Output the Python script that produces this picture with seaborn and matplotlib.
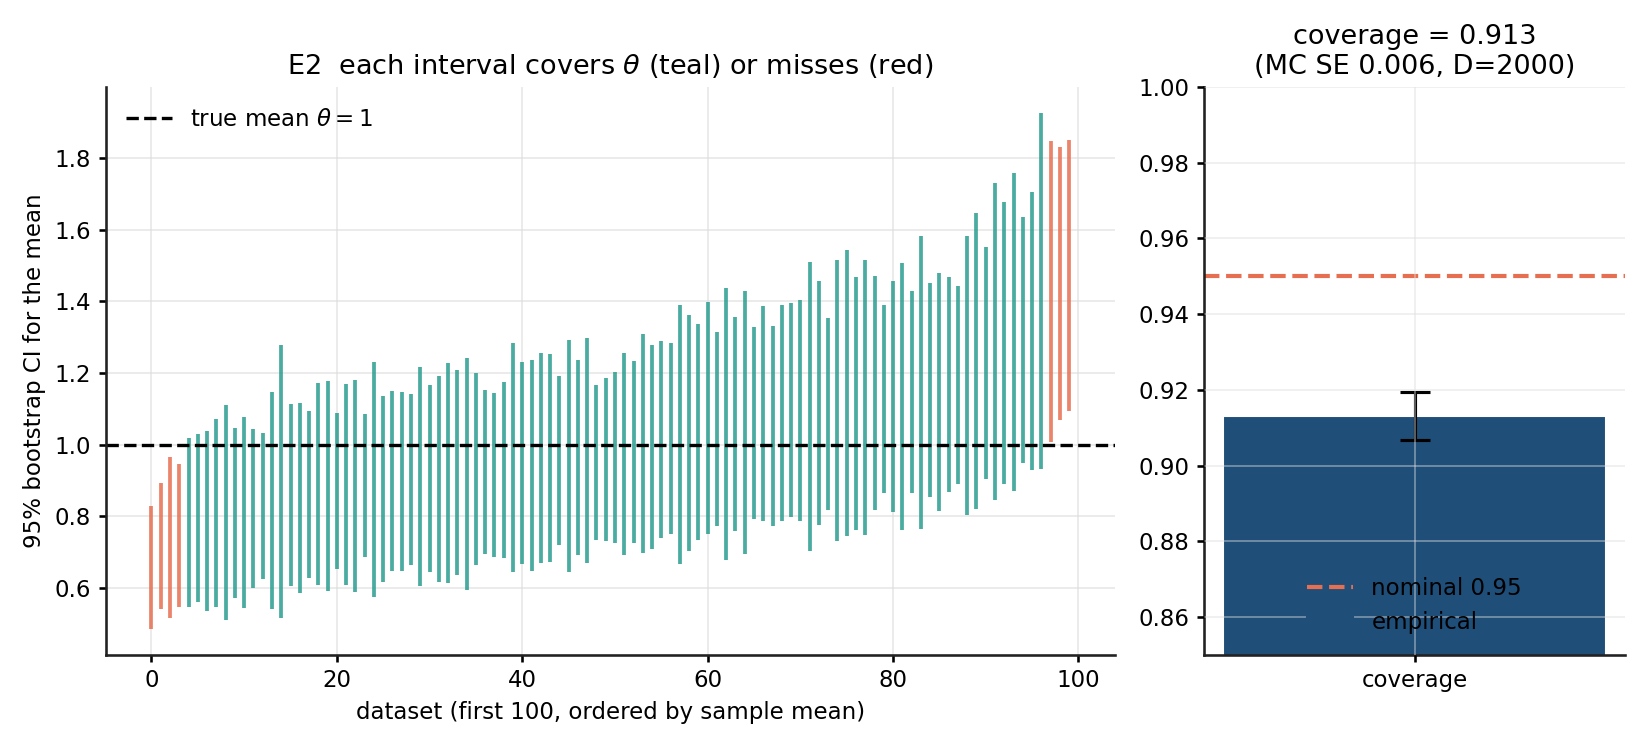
import matplotlib
matplotlib.use("Agg")
import matplotlib.pyplot as plt
from matplotlib.patches import Patch
import numpy as np
import pandas as pd
import seaborn as sns

# bootstrap CI endpoints, first 100 datasets ordered by sample mean
ci_low = [0.486, 0.542, 0.516, 0.547, 0.547, 0.561, 0.535, 0.547, 0.511, 0.572,
          0.544, 0.600, 0.625, 0.542, 0.516, 0.605, 0.586, 0.628, 0.608, 0.591,
          0.652, 0.608, 0.589, 0.688, 0.574, 0.616, 0.649, 0.649, 0.664, 0.605,
          0.644, 0.616, 0.613, 0.636, 0.594, 0.664, 0.696, 0.688, 0.685, 0.646,
          0.666, 0.649, 0.669, 0.672, 0.719, 0.646, 0.693, 0.669, 0.735, 0.730,
          0.727, 0.693, 0.727, 0.699, 0.708, 0.741, 0.750, 0.666, 0.703, 0.735,
          0.752, 0.774, 0.677, 0.758, 0.696, 0.794, 0.786, 0.774, 0.786, 0.799,
          0.788, 0.703, 0.777, 0.818, 0.732, 0.744, 0.763, 0.747, 0.818, 0.866,
          0.813, 0.763, 0.866, 0.766, 0.854, 0.815, 0.869, 0.890, 0.805, 0.822,
          0.905, 0.846, 0.890, 0.871, 0.949, 0.929, 0.932, 1.007, 1.068, 1.095]
ci_high = [0.829, 0.892, 0.967, 0.945, 1.018, 1.029, 1.037, 1.073, 1.112, 1.047,
           1.076, 1.045, 1.034, 1.148, 1.278, 1.114, 1.117, 1.094, 1.172, 1.178,
           1.089, 1.169, 1.181, 1.086, 1.231, 1.136, 1.151, 1.148, 1.142, 1.216,
           1.167, 1.192, 1.228, 1.208, 1.242, 1.200, 1.153, 1.145, 1.175, 1.283,
           1.231, 1.236, 1.255, 1.253, 1.192, 1.291, 1.236, 1.297, 1.167, 1.187,
           1.203, 1.255, 1.234, 1.309, 1.278, 1.289, 1.283, 1.389, 1.361, 1.336,
           1.397, 1.314, 1.436, 1.356, 1.428, 1.328, 1.386, 1.330, 1.389, 1.394,
           1.405, 1.511, 1.458, 1.353, 1.516, 1.544, 1.467, 1.514, 1.472, 1.389,
           1.458, 1.508, 1.428, 1.581, 1.452, 1.480, 1.467, 1.444, 1.583, 1.646,
           1.553, 1.730, 1.677, 1.758, 1.636, 1.705, 1.926, 1.846, 1.830, 1.849]
theta = 1.0

coverage = 0.913
mc_se = 0.0063
nominal = 0.95
n_datasets = 2000

TEAL = "#2a9d8f"
RED = "#e76f51"
NAVY = "#1f4e79"

sns.set_theme(style="ticks", rc={
    "text.color": "black", "axes.labelcolor": "black",
    "xtick.color": "black", "ytick.color": "black",
    "axes.edgecolor": "#222222",
    "xtick.major.size": 3.5, "ytick.major.size": 3.5,
})
plt.rcParams["font.family"] = ["DejaVu Sans"]

df = pd.DataFrame({"idx": np.arange(len(ci_low)), "lo": ci_low, "hi": ci_high})
df["covered"] = (df["lo"] <= theta) & (df["hi"] >= theta)

fig, (ax, ax2) = plt.subplots(1, 2, figsize=(11, 5), dpi=150,
                              gridspec_kw={"width_ratios": [2.397, 1]})
fig.subplots_adjust(left=0.064, right=0.985, bottom=0.127, top=0.884, wspace=0.1245)

# left: intervals
for cov, col in [(True, TEAL), (False, RED)]:
    sub = df[df["covered"] == cov]
    ax.vlines(sub["idx"], sub["lo"], sub["hi"], color=col, lw=1.8, alpha=0.85)
ax.axhline(theta, color="black", ls="--", lw=1.6, label=r"true mean $\theta=1$")
ax.set_title(r"E2  each interval covers $\theta$ (teal) or misses (red)", fontsize=13)
ax.set_xlabel("dataset (first 100, ordered by sample mean)", fontsize=11)
ax.set_ylabel("95% bootstrap CI for the mean", fontsize=11)
ax.grid(True, color="#dddddd", alpha=0.7, lw=0.8)
ax.legend(loc="upper left", frameon=False, fontsize=11)
ax.tick_params(labelsize=11)

# right: coverage bar
cov_df = pd.DataFrame({"label": ["coverage"], "value": [coverage]})
sns.barplot(data=cov_df, x="label", y="value", color=NAVY, saturation=1,
            width=0.8, ax=ax2)
ax2.errorbar(0, coverage, yerr=mc_se, color="black", capsize=7, lw=1.5,
             capthick=1.5)
nom_line = ax2.axhline(nominal, color=RED, ls="--", lw=2)
ax2.set_ylim(0.85, 1.0)
ax2.set_xlim(-0.44, 0.44)
ax2.set_xlabel("")
ax2.set_ylabel("")
ax2.set_axisbelow(False)
ax2.grid(True, color="#dddddd", alpha=0.5, lw=0.8)
ax2.set_title(f"coverage = {coverage:.3f}\n(MC SE {mc_se:.3f}, D={n_datasets})",
              fontsize=13)
ax2.legend([nom_line, Patch(facecolor=NAVY, edgecolor=NAVY)],
           ["nominal 0.95", "empirical"],
           loc="lower center", frameon=False, fontsize=11,
           bbox_to_anchor=(0.5, 0.0))
ax2.tick_params(labelsize=11)

sns.despine(fig)
fig.savefig("out.png", dpi=150)
